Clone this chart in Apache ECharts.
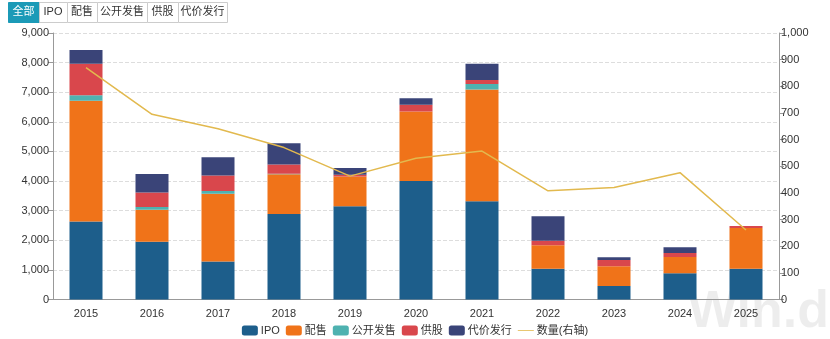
<!DOCTYPE html>
<html><head><meta charset="utf-8">
<script src="https://cdn.jsdelivr.net/npm/echarts@6/dist/echarts.min.js"></script>
<style>html,body{margin:0;padding:0;background:#fff}#c{width:830px;height:339px}</style>
</head><body><div id="c"></div>
<script>
const categories = ['2015','2016','2017','2018','2019','2020','2021','2022','2023','2024','2025'];
const ipo      = [2630,1950,1280,2890,3150,4000,3320,1040,455,885,1040];
const placing  = [4080,1085,2290,1340,1000,2350,3770,790,665,550,1375];
const publicOffer = [190,90,90,20,0,0,190,0,0,0,0];
const rights   = [1060,485,530,310,60,225,135,155,215,135,70];
const consideration = [470,630,610,720,235,225,550,825,90,195,0];
const count    = [870,695,641,570,463,530,557,408,420,476,261];
const buttons = ['全部','IPO','配售','公开发售','供股','代价发行'];
const seriesNames = ['IPO','配售','公开发售','供股','代价发行','数量(右轴)'];

const chart = echarts.init(document.getElementById('c'));
const font = 'Helvetica, Arial, "Liberation Sans", "Noto Sans CJK SC", sans-serif';
const fmt = v => v.toLocaleString('en-US');

const btnX = [8,39,67,97,147,178,227];
const graphics = [];
buttons.forEach((b,i)=>{
  const sel = i===0;
  graphics.push({type:'rect',left:btnX[i],top:2,shape:{width:btnX[i+1]-btnX[i],height:20},
    style:{fill: sel?'#1b9ab7':'#fff',stroke: sel?'#1b9ab7':'#ccc',lineWidth:1},z:10});
  graphics.push({type:'text',x:(btnX[i]+btnX[i+1])/2,y:12,
    style:{text:b,fill: sel?'#fff':'#333',font:'11px '+font,align:'center',verticalAlign:'middle'},z:11});
});
graphics.push({type:'text',left:688,top:287,silent:true,
  style:{text:'Win.d',fill:'rgba(0,0,0,0.07)',font:'bold 52px '+font},z:0});

const barCommon = {type:'bar',stack:'s',barWidth:'50%',yAxisIndex:0};
chart.setOption({
  animation:false,
  textStyle:{fontFamily:font},
  graphic:graphics,
  color:['#1d5e8b','#f07319','#4eb2b0','#d9474c','#3a4478','#e2b94e'],
  grid:{left:53,right:51,top:33,bottom:39.5},
  legend:{top:320,left:'center',itemWidth:16,itemHeight:10,itemGap:6,
    textStyle:{fontSize:11,color:'#333',padding:[0,0,0,-2]},
    data:seriesNames.map((n,i)=> i===5?{name:n,icon:'path://M0,4L20,4L20,5L0,5Z'}:{name:n,icon:'roundRect'})},
  xAxis:{type:'category',data:categories,
    axisLine:{lineStyle:{color:'#999'}},axisTick:{alignWithLabel:true,lineStyle:{color:'#999'}},
    axisLabel:{color:'#333',fontSize:11,margin:9}},
  yAxis:[
    {type:'value',min:0,max:9000,interval:1000,
      axisLine:{show:true,lineStyle:{color:'#999'}},axisTick:{show:true,lineStyle:{color:'#999'}},
      axisLabel:{color:'#333',fontSize:11,formatter:fmt,margin:4},
      splitLine:{lineStyle:{type:'dashed',color:'#ddd'}}},
    {type:'value',min:0,max:1000,interval:100,position:'right',
      axisLine:{show:true,lineStyle:{color:'#999'}},axisTick:{show:true,lineStyle:{color:'#999'}},
      axisLabel:{color:'#333',fontSize:11,formatter:fmt,margin:2},
      splitLine:{show:false}}
  ],
  series:[
    Object.assign({name:seriesNames[0],data:ipo},barCommon),
    Object.assign({name:seriesNames[1],data:placing},barCommon),
    Object.assign({name:seriesNames[2],data:publicOffer},barCommon),
    Object.assign({name:seriesNames[3],data:rights},barCommon),
    Object.assign({name:seriesNames[4],data:consideration},barCommon),
    {name:seriesNames[5],type:'line',yAxisIndex:1,data:count,symbol:'none',
      lineStyle:{width:1.5,color:'#e2b94e'},z:5}
  ]
});
</script></body></html>
